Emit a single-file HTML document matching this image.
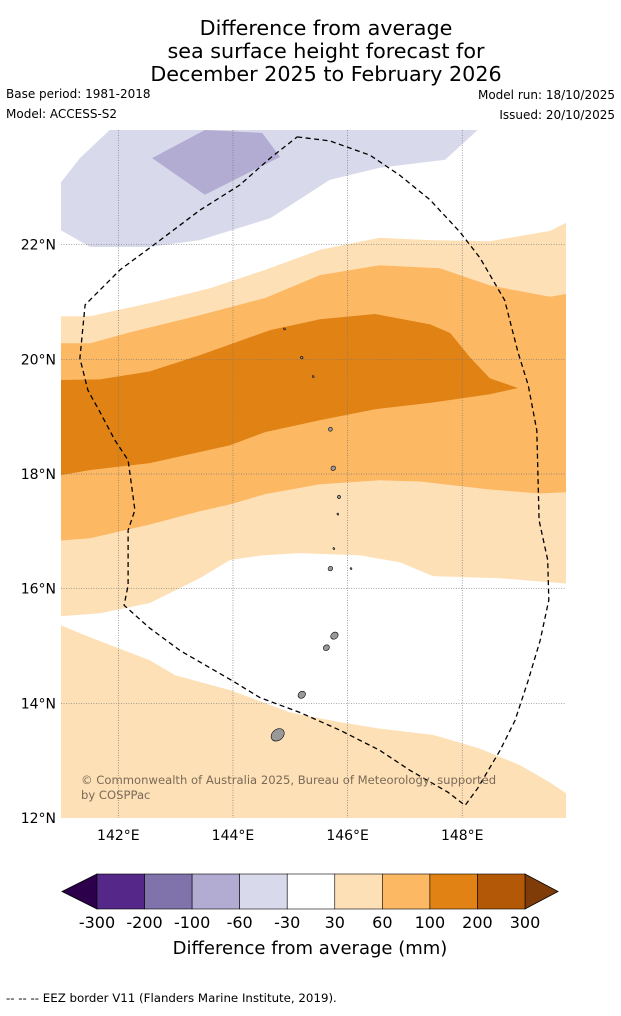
<!DOCTYPE html>
<html><head><meta charset="utf-8"><style>
body{margin:0;background:#fff;font-family:"Liberation Sans",sans-serif}
svg text{font-family:"DejaVu Sans","Liberation Sans",sans-serif}
</style></head><body>
<svg id="chart" width="621" height="1011" viewBox="0 0 621 1011" xmlns="http://www.w3.org/2000/svg">
<rect width="621" height="1011" fill="#fff"/>
<g font-size="20.7" text-anchor="middle" fill="#000">
<text x="326" y="35">Difference from average</text>
<text x="326" y="58">sea surface height forecast for</text>
<text x="326" y="81">December 2025 to February 2026</text>
</g>
<text x="6" y="98" font-size="12">Base period: 1981-2018</text>
<text x="6" y="118" font-size="12">Model: ACCESS-S2</text>
<text x="615" y="99" font-size="12" text-anchor="end">Model run: 18/10/2025</text>
<text x="615" y="119" font-size="12" text-anchor="end">Issued: 20/10/2025</text>
<g id="map"></g>
<g id="cbar"></g>
<text x="310" y="954" font-size="18" text-anchor="middle">Difference from average (mm)</text>
<text x="6" y="1002" font-size="11.8">--  --  -- EEZ border V11 (Flanders Marine Institute, 2019).</text>
</svg>
<script>
const lonMin=141, lonMax=149.81, latMin=12, latMax=24;
const lonTicks=[142,144,146,148];
const latTicks=[12,14,16,18,20,22];
const purpleLight=[[141.85,24],[148.27,24],[147.7,23.48],[146.56,23.34],[145.69,23.13],[144.65,22.46],[143.42,22.08],[142.55,21.96],[141.51,21.96],[141,22.25],[141,23.09],[141.33,23.51]];
const purpleMid=[[142.59,23.51],[143.51,24],[144.51,23.95],[144.82,23.53],[143.51,22.87]];
const orangeLight=[[141,20.75],[141.51,20.75],[142.55,20.98],[143.6,21.24],[144.56,21.56],[145.52,21.91],[146.56,22.12],[147.44,22.08],[148.48,22.06],[149.53,22.24],[149.81,22.38],[149.81,16.09],[148.66,16.18],[147.49,16.22],[146.91,16.46],[146.22,16.58],[145.17,16.62],[144.51,16.58],[143.95,16.5],[143.42,16.18],[142.55,15.75],[141.68,15.57],[141,15.52]];
const orangeMid=[[141,20.28],[141.51,20.28],[142.2,20.47],[143.42,20.77],[144.56,21.07],[145.52,21.47],[146.56,21.64],[147.61,21.59],[148.48,21.29],[149.53,21.09],[149.81,21.14],[149.81,17.68],[149.36,17.66],[148.48,17.73],[147.26,17.87],[146.56,17.89],[145.52,17.82],[144.56,17.65],[143.95,17.47],[143.42,17.35],[142.55,17.12],[141.51,16.88],[141,16.84]];
const orangeDark=[[141,19.64],[141.68,19.65],[142.55,19.79],[143.42,20.07],[144.65,20.51],[145.52,20.7],[146.48,20.79],[147.44,20.61],[147.79,20.46],[148.13,20.04],[148.48,19.67],[148.97,19.5],[148.48,19.39],[147.44,19.24],[146.48,19.13],[145.52,18.94],[144.56,18.73],[143.95,18.5],[142.55,18.19],[141.51,18.07],[141,17.98]];
const orangeSouth=[[141,15.36],[141.51,15.15],[142.55,14.75],[142.99,14.49],[143.95,14.23],[145,13.84],[145.87,13.67],[146.56,13.56],[147.49,13.45],[148.31,13.21],[149.01,12.92],[149.53,12.62],[149.81,12.43],[149.81,12],[141,12]];
const eez=[[145.12,23.88],[145.69,23.81],[146.39,23.56],[146.91,23.21],[147.44,22.78],[147.96,22.22],[148.31,21.77],[148.74,21.03],[148.97,20.13],[149.15,19.55],[149.3,18.76],[149.34,17.19],[149.49,16.5],[149.51,15.8],[149.36,15.1],[149.15,14.4],[148.92,13.7],[148.66,13.18],[148.27,12.52],[148.05,12.22],[147.75,12.45],[147.09,12.83],[146.56,13.18],[145.87,13.53],[145.17,13.84],[144.47,14.1],[143.98,14.4],[143.08,14.92],[142.55,15.31],[142.1,15.71],[142.17,16.06],[142.17,17.02],[142.29,17.37],[142.17,18.24],[141.94,18.59],[141.68,19.08],[141.47,19.46],[141.33,20.02],[141.42,20.95],[142.03,21.56],[142.73,22.08],[143.42,22.6],[144.12,23.04],[144.65,23.51],[145.12,23.88]];
const islandLon=[144.78,145.2,145.63,145.77,146.06,145.7,145.76,145.83,145.85,145.75,145.7,145.4,145.2,144.9];
const islandLat=[13.45,14.15,14.97,15.18,16.35,16.35,16.7,17.3,17.6,18.1,18.78,19.7,20.03,20.53];
const islandSize=[9,5,4,5,1,3,1,1,2,3,2.5,1,1.5,1];
const cbLabels=["-300","-200","-100","-60","-30","30","60","100","200","300"];
const cbColors=["#542788","#8073ac","#b2abd2","#d8daeb","#ffffff","#fee0b6","#fdb863","#e08214","#b35806"];

const X0=61,X1=566,Y0=130,Y1=818;
const sx=l=>X0+(l-lonMin)/(lonMax-lonMin)*(X1-X0);
const sy=l=>Y1-(l-latMin)/(latMax-latMin)*(Y1-Y0);
const NS="http://www.w3.org/2000/svg";
const map=document.getElementById('map');
function mk(tag,attrs,parent){const e=document.createElementNS(NS,tag);for(const k in attrs)e.setAttribute(k,attrs[k]);parent.appendChild(e);return e;}
function pts(a){return a.map(p=>sx(p[0]).toFixed(1)+','+sy(p[1]).toFixed(1)).join(' ');}
const layers=[[purpleLight,'#d8daeb','contour-minus60-minus30'],[purpleMid,'#b2abd2','contour-minus100-minus60'],[orangeLight,'#fee0b6','contour-30-60'],[orangeMid,'#fdb863','contour-60-100'],[orangeDark,'#e08214','contour-100-200'],[orangeSouth,'#fee0b6','contour-30-60-south']];
layers.forEach(L=>{
 const e=mk('polygon',{points:pts(L[0]),fill:L[1]},map);
 
 
});
lonTicks.forEach(t=>{
 const l=mk('line',{x1:sx(t),x2:sx(t),y1:Y0,y2:Y1,stroke:'#777','stroke-width':0.7,'stroke-dasharray':'1,1.5'},map);
 
 
 const tx=mk('text',{x:sx(t),y:840,'font-size':14,'text-anchor':'middle'},map);
 tx.textContent=t+'°E';
 
 
});
latTicks.forEach(t=>{
 if(t>latMin){
 const l=mk('line',{x1:X0,x2:X1,y1:sy(t),y2:sy(t),stroke:'#777','stroke-width':0.7,'stroke-dasharray':'1,1.5'},map);
 
 
 }
 const tx=mk('text',{x:56,y:sy(t)+5,'font-size':14,'text-anchor':'end'},map);
 tx.textContent=t+'°N';
 
 
});
islandLon.forEach((lo,i)=>{
 const s=islandSize[i];
 const e=mk('ellipse',{cx:sx(lo),cy:sy(islandLat[i]),rx:s*0.8,ry:s*0.55+0.5,fill:'#999',stroke:'#000','stroke-width':0.6,transform:`rotate(-40 ${sx(lo)} ${sy(islandLat[i])})`},map);
 
 
});
const ez=mk('polyline',{points:pts(eez),fill:'none',stroke:'#000','stroke-width':1.3,'stroke-dasharray':'5,3.5'},map);


const c1=mk('text',{x:81,y:784,'font-size':11.6,fill:'#7a6a58'},map);
c1.textContent='© Commonwealth of Australia 2025, Bureau of Meteorology, supported';


const c2=mk('text',{x:81,y:799,'font-size':11.6,fill:'#7a6a58'},map);
c2.textContent='by COSPPac';



const cb=document.getElementById('cbar');
const cbX0=97,cbX1=525,cbY0=874,cbY1=909,bw=(cbX1-cbX0)/cbColors.length;
const lt=mk('polygon',{points:`${cbX0},${cbY0} ${cbX0},${cbY1} 62,${(cbY0+cbY1)/2}`,fill:'#2d004b',stroke:'#000','stroke-width':0.8},cb);


const rt=mk('polygon',{points:`${cbX1},${cbY0} ${cbX1},${cbY1} 558,${(cbY0+cbY1)/2}`,fill:'#7f3b08',stroke:'#000','stroke-width':0.8},cb);


cbColors.forEach((c,i)=>{
 const r=mk('rect',{x:cbX0+i*bw,y:cbY0,width:bw,height:cbY1-cbY0,fill:c,stroke:'#000','stroke-width':0.6},cb);
 
 
});
cbLabels.forEach((s,i)=>{
 const t=mk('text',{x:cbX0+i*bw,y:928,'font-size':16,'text-anchor':'middle'},cb);
 t.textContent=s;
 
 
});
</script>
</body></html>
